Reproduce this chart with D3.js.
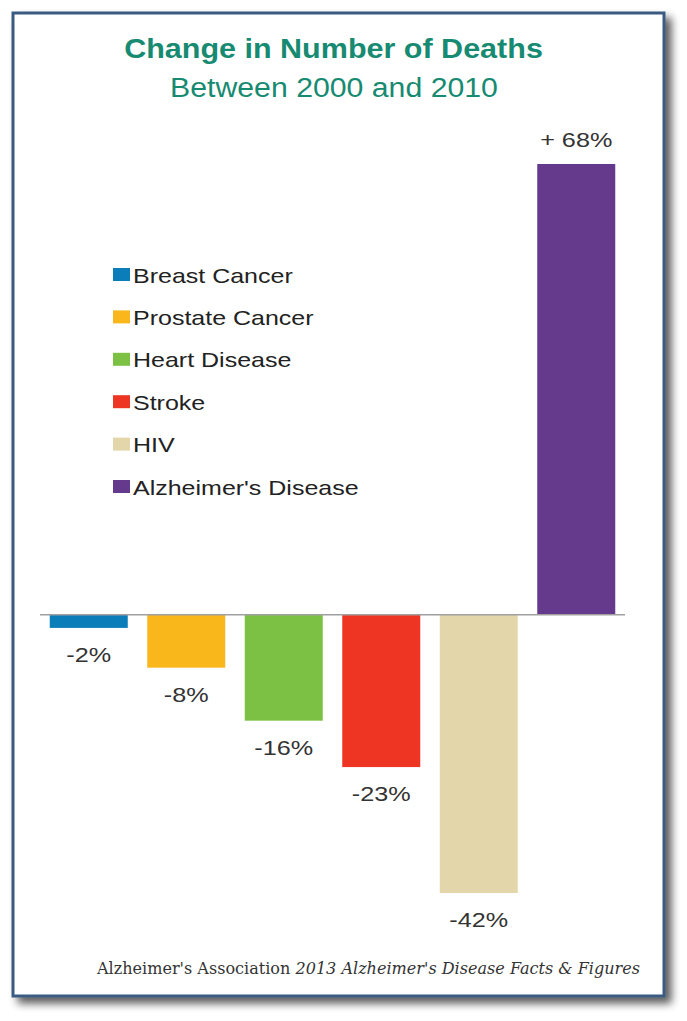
<!DOCTYPE html>
<html><head><meta charset="utf-8">
<script src="https://cdn.jsdelivr.net/npm/d3@7"></script>
<style>body{margin:0;background:#fff;}svg{display:block;}</style>
</head><body>
<script>
const categories = ["Breast Cancer","Prostate Cancer","Heart Disease","Stroke","HIV","Alzheimer's Disease"];
const values = [-2,-8,-16,-23,-42,68];
const labels = ["-2%","-8%","-16%","-23%","-42%","+ 68%"];
const colors = ["#0b7db8","#f9b71c","#7cc143","#ee3524","#e3d6aa","#653a8d"];

const W=687,H=1021;
const FONT="Liberation Sans, Arial, sans-serif";
const svg=d3.select("body").append("svg").attr("width",W).attr("height",H);
const defs=svg.append("defs");
const f=defs.append("filter").attr("id","sh").attr("x","-5%").attr("y","-5%").attr("width","115%").attr("height","115%");
f.append("feGaussianBlur").attr("in","SourceAlpha").attr("stdDeviation",4);
f.append("feOffset").attr("dx",6).attr("dy",6).attr("result","b");
f.append("feComponentTransfer").append("feFuncA").attr("type","linear").attr("slope",0.65);
const m=f.append("feMerge");m.append("feMergeNode");m.append("feMergeNode").attr("in","SourceGraphic");

function stretch(sel,k){
  sel.each(function(){const n=this.getComputedTextLength();
    d3.select(this).attr("textLength",n*k).attr("lengthAdjust","spacingAndGlyphs");});
}

svg.append("rect").attr("x",13).attr("y",13).attr("width",651).attr("height",983)
  .attr("fill","#fff").attr("stroke","#3b5a82").attr("stroke-width",3).attr("filter","url(#sh)");

stretch(svg.append("text").attr("x",333.5).attr("y",58).attr("text-anchor","middle")
  .attr("font-family",FONT).attr("font-weight","bold").attr("font-size",27)
  .attr("fill","#178a72").text("Change in Number of Deaths"),1.13);
stretch(svg.append("text").attr("x",334).attr("y",97).attr("text-anchor","middle")
  .attr("font-family",FONT).attr("font-size",27)
  .attr("fill","#178a72").text("Between 2000 and 2010"),1.12);

const x=d3.scaleBand().domain(categories).range([40,625]).paddingInner(0.2).paddingOuter(0.1);
const y=d3.scaleLinear().domain([-42,68]).range([893,164]);

svg.append("g").selectAll("rect").data(values).join("rect")
  .attr("x",(d,i)=>x(categories[i])).attr("width",x.bandwidth())
  .attr("y",d=>y(Math.max(0,d))).attr("height",d=>Math.abs(y(d)-y(0)))
  .attr("fill",(d,i)=>colors[i]);

svg.append("line").attr("x1",40).attr("x2",625).attr("y1",y(0)).attr("y2",y(0))
  .attr("stroke","#a0a0a0").attr("stroke-width",1.5);

stretch(svg.append("g").selectAll("text").data(values).join("text")
  .attr("x",(d,i)=>x(categories[i])+x.bandwidth()/2)
  .attr("y",d=>d<0?y(d)+34:y(d)-17)
  .attr("text-anchor","middle").attr("font-family",FONT)
  .attr("font-size",21).attr("fill","#333").text((d,i)=>labels[i]),1.2);

const lg=svg.append("g");
categories.forEach((c,i)=>{
  const cy=274.5+i*42.4;
  lg.append("rect").attr("x",113).attr("y",cy-6.5).attr("width",17).attr("height",13).attr("fill",colors[i]);
  stretch(lg.append("text").attr("x",133).attr("y",cy+8).attr("font-family",FONT)
    .attr("font-size",21).attr("fill","#222").text(c),1.19);
});

const ft=svg.append("text").attr("x",640).attr("y",974).attr("text-anchor","end")
  .attr("font-family","DejaVu Serif, serif").attr("font-size",16).attr("fill","#333")
  .attr("textLength",543).attr("lengthAdjust","spacingAndGlyphs");
ft.append("tspan").text("Alzheimer's Association ");
ft.append("tspan").attr("font-style","italic").text("2013 Alzheimer's Disease Facts & Figures");
</script>
</body></html>
